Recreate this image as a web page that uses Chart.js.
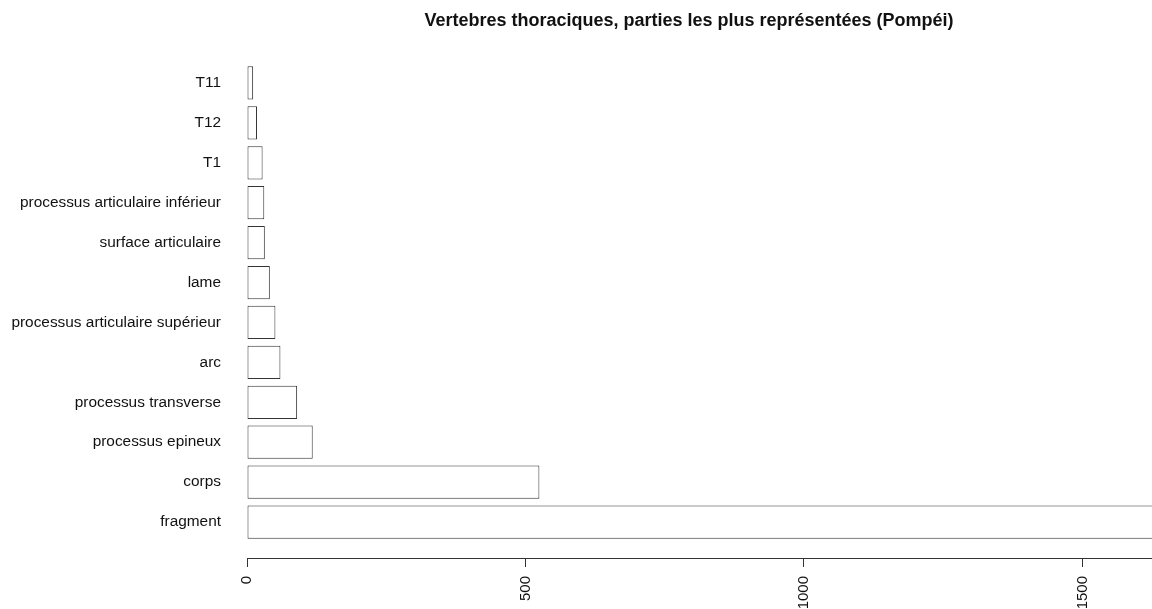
<!DOCTYPE html>
<html>
<head>
<meta charset="utf-8">
<script src="https://cdn.jsdelivr.net/npm/chart.js@4"></script>
<style>
  html, body { margin: 0; padding: 0; background: #fff; }
  canvas { display: block; }
</style>
</head>
<body>
<canvas id="chart" width="1152" height="609"></canvas>
<script>
// --- data (top to bottom, as in the picture) ---
const parties = [
  "T11",
  "T12",
  "T1",
  "processus articulaire inférieur",
  "surface articulaire",
  "lame",
  "processus articulaire supérieur",
  "arc",
  "processus transverse",
  "processus epineux",
  "corps",
  "fragment"
];
const effectifs = [11, 18, 28, 31, 32, 41, 51, 60, 90, 118, 525, 1700];
const xTicks = [0, 500, 1000, 1500];
const titre = "Vertebres thoraciques, parties les plus représentées (Pompéi)";

const inkColor = "#333";
const fontFamily = "'Liberation Sans', Arial, sans-serif";

// title drawn off-centre like the R plot
const titlePlugin = {
  id: "titreR",
  afterDraw(chart) {
    const ctx = chart.ctx;
    ctx.save();
    ctx.font = "bold 18px " + fontFamily;
    ctx.fillStyle = "#111";
    ctx.textAlign = "center";
    ctx.textBaseline = "middle";
    ctx.fillText(titre, 689, 21);
    ctx.restore();
  }
};

new Chart(document.getElementById("chart"), {
  type: "bar",
  data: {
    labels: parties,
    datasets: [{
      data: effectifs,
      xAxisID: "x",
      backgroundColor: "#ffffff",
      borderColor: inkColor,
      borderWidth: 1,
      borderSkipped: false,
      barPercentage: 1 / 1.2,
      categoryPercentage: 1,
      clip: { left: 3, top: 3, bottom: 3, right: 0 }
    }]
  },
  options: {
    indexAxis: "y",
    responsive: false,
    animation: false,
    events: [],
    layout: { padding: { top: 63, left: 0, right: 0, bottom: 0 } },
    plugins: {
      legend: { display: false },
      tooltip: { enabled: false },
      title: { display: false }
    },
    scales: {
      y: {
        type: "category",
        grid: { display: false, drawTicks: false },
        border: { display: false },
        ticks: {
          color: "#111",
          padding: 26,
          font: { family: fontFamily, size: 15.4 }
        },
        afterFit(scale) { scale.width = 247; }
      },
      // empty spacer so the axis sits below the bars like R's plot region
      pad: {
        type: "linear",
        position: "bottom",
        weight: 0,
        min: 0,
        max: 1,
        grid: { display: false, drawTicks: false },
        border: { display: false },
        ticks: { display: false },
        afterFit(scale) { scale.height = 16; }
      },
      x: {
        type: "linear",
        position: "bottom",
        weight: 1,
        min: 0,
        max: 1625,
        afterBuildTicks(scale) {
          scale.ticks = xTicks.map(v => ({ value: v }));
        },
        grid: {
          drawOnChartArea: false,
          drawTicks: true,
          tickLength: 9,
          color: inkColor
        },
        border: { display: true, color: inkColor, width: 1 },
        ticks: {
          color: "#111",
          minRotation: 90,
          maxRotation: 90,
          padding: 9,
          font: { family: fontFamily, size: 15 },
          callback: v => String(v)
        },
        afterFit(scale) { scale.height = 51; }
      }
    }
  },
  plugins: [titlePlugin]
});
</script>
</body>
</html>
